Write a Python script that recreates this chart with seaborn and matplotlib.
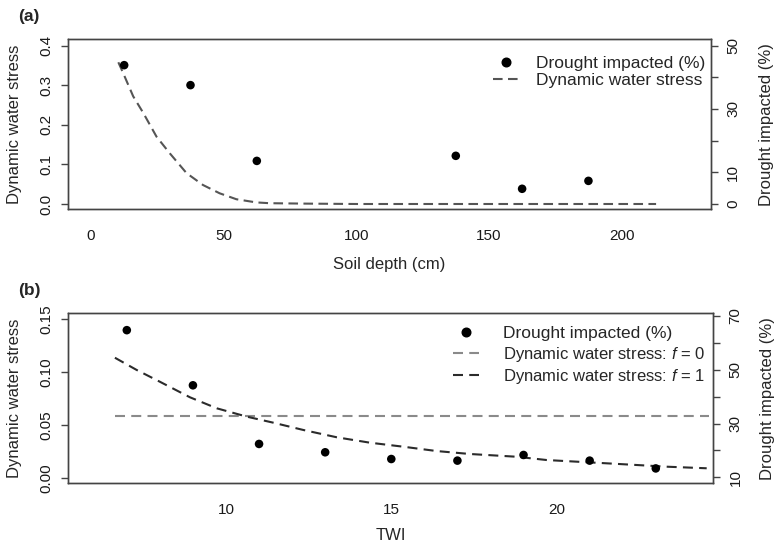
import matplotlib
matplotlib.use("Agg")
import matplotlib.pyplot as plt
import pandas as pd
import seaborn as sns
from matplotlib.lines import Line2D

# ---------------- data: panel (a) ----------------
depth_pts = [12.5, 37.5, 62.5, 137.5, 162.5, 187.5]
drought_a = [43.8, 37.5, 13.6, 15.2, 4.8, 7.3]
depth_curve = [10.3, 12.1, 15.9, 19.7, 24.7, 29.7, 36.0, 42.2, 48.5, 54.8,
               62.3, 67.3, 80.0, 100.0, 150.0, 213.0]
stress_a = [0.358, 0.331, 0.272, 0.230, 0.170, 0.128, 0.078, 0.048, 0.027,
            0.012, 0.004, 0.002, 0.001, 0.0, 0.0, 0.0]

# ---------------- data: panel (b) ----------------
twi_pts = [7, 9, 11, 13, 15, 17, 19, 21, 23]
drought_b = [64.7, 44.2, 22.4, 19.3, 16.8, 16.2, 18.3, 16.2, 13.3]
twi_curve = [6.64, 7.30, 8.00, 8.91, 9.72, 10.63, 11.43, 12.34, 13.35, 14.35,
             15.36, 16.37, 17.38, 18.79, 19.70, 21.51, 23.33, 24.54]
stress_f1 = [0.1134, 0.1018, 0.0907, 0.0760, 0.0656, 0.0577, 0.0520, 0.0451,
             0.0382, 0.0331, 0.0293, 0.0252, 0.0224, 0.0198, 0.0167, 0.0136,
             0.0104, 0.0089]
twi_f0 = [6.64, 24.6]
stress_f0 = [0.0586, 0.0586]

# tick labels
left_ticks_a = [0.0, 0.1, 0.2, 0.3, 0.4]
right_ticks_a = [0, 10, 20, 30, 40, 50]
right_labels_a = ["0", "10", "", "30", "", "50"]
x_ticks_a = [0, 50, 100, 150, 200]
left_ticks_b = [0.00, 0.05, 0.10, 0.15]
right_ticks_b = [10, 20, 30, 40, 50, 60, 70]
right_labels_b = ["10", "", "30", "", "50", "", "70"]
x_ticks_b = [10, 15, 20]

df_a_pts = pd.DataFrame({"depth": depth_pts, "drought": drought_a})
df_a_cur = pd.DataFrame({"depth": depth_curve, "stress": stress_a})
df_b_pts = pd.DataFrame({"twi": twi_pts, "drought": drought_b})
df_b_f1 = pd.DataFrame({"twi": twi_curve, "stress": stress_f1})
df_b_f0 = pd.DataFrame({"twi": twi_f0, "stress": stress_f0})

sns.set_theme(style="white")
plt.rcParams["font.family"] = ["Liberation Sans", "DejaVu Sans"]
plt.rcParams["mathtext.fontset"] = "custom"
plt.rcParams["mathtext.it"] = "Liberation Sans:italic"
plt.rcParams["mathtext.rm"] = "Liberation Sans"

FS_TICK = 11
FS_LAB = 12
FS_LEG = 12.5
AX_COL = "#444444"

fig = plt.figure(figsize=(7.75, 5.44), dpi=100)
W, H = 775.0, 544.0


def axes_px(l, t, r, b):
    return fig.add_axes([l / W, 1 - b / H, (r - l) / W, (b - t) / H])


def style_axis(ax):
    for s in ax.spines.values():
        s.set_color(AX_COL)
        s.set_linewidth(1.0)
        s.set_visible(True)
    ax.tick_params(axis="both", direction="out", length=5, width=1,
                   color=AX_COL, labelsize=FS_TICK, labelcolor="#1a1a1a", pad=6)
    ax.tick_params(axis="x", pad=9.5)
    ax.set_facecolor("none")


def make_panel(l, t, r, b, df_pts, xcol, curves, xlim, ylim_l, ylim_r,
               lt, lt_fmt, rt, rl, xt, xlabel, xlabel_y, leg_items,
               leg_anchor, leg_kw):
    ax = axes_px(l, t, r, b)
    for df, col, dash in curves:
        sns.lineplot(data=df, x=xcol, y="stress", ax=ax, color=col,
                     linewidth=1.5, estimator=None, sort=False)
        ax.lines[-1].set_dashes(dash)
    ax.set_xlim(*xlim)
    ax.set_ylim(*ylim_l)
    ax.set_yticks(lt)
    ax.set_yticklabels([lt_fmt.format(v) for v in lt], rotation=90,
                       va="center")
    ax.set_xticks(xt)
    ax.set_xticklabels([str(v) for v in xt])
    style_axis(ax)
    ax.set_xlabel(xlabel, fontsize=FS_LAB)
    ax.set_ylabel("Dynamic water stress", fontsize=FS_LAB)

    ax2 = ax.twinx()
    sns.scatterplot(data=df_pts, x=xcol, y="drought", ax=ax2, color="black",
                    s=38, edgecolor="none", zorder=5)
    ax2.set_ylim(*ylim_r)
    ax2.set_yticks(rt)
    ax2.set_yticklabels(rl, rotation=90, va="center")
    style_axis(ax2)
    ax2.set_ylabel("Drought impacted (%)", fontsize=FS_LAB)
    ax2.set_xlim(*xlim)

    wpx = r - l
    hpx = b - t
    ax.yaxis.set_label_coords((15 - l) / wpx, 0.5)
    ax.yaxis.label.set_va("center")
    ax2.yaxis.set_label_coords((767 - l) / wpx, 0.5)
    ax2.yaxis.label.set_va("center")
    ax.xaxis.set_label_coords(0.5, 1 - (xlabel_y - t) / hpx)
    ax.xaxis.label.set_va("center")

    handles = []
    labels = []
    for kind, col, dash, lab in leg_items:
        if kind == "pt":
            handles.append(Line2D([], [], marker="o", color="black",
                                  linestyle="None", markersize=6.2))
        else:
            h = Line2D([], [], color=col, linewidth=1.5)
            h.set_dashes(dash)
            handles.append(h)
        labels.append(lab)
    leg = ax2.legend(handles, labels, loc="upper right",
                     bbox_to_anchor=leg_anchor, frameon=False,
                     fontsize=FS_LEG, borderaxespad=0, borderpad=0, **leg_kw)
    return ax, ax2, leg


DASH_A = (4.6, 2.6)
DASH_B = (4.8, 3.0)

# panel (a)
ax_a, ax_a2, leg_a = make_panel(
    68.3, 39.3, 711.0, 209.3, df_a_pts, "depth",
    [(df_a_cur, "#555555", DASH_A)],
    (-8.56, 233.7), (-0.0134, 0.416), (-1.67, 51.96),
    left_ticks_a, "{:.1f}", right_ticks_a, right_labels_a, x_ticks_a,
    "Soil depth (cm)", 265,
    [("pt", "black", None, "Drought impacted (%)"),
     ("ln", "#555555", DASH_A, "Dynamic water stress")],
    ((705 - 68.3) / 642.7, 0.905),
    dict(handlelength=1.5, handletextpad=0.95, labelspacing=0.12),
)

# panel (b)
ax_b, ax_b2, leg_b = make_panel(
    68.3, 313.3, 713.3, 483.3, df_b_pts, "twi",
    [(df_b_f0, "#8a8a8a", DASH_B), (df_b_f1, "#2b2b2b", DASH_B)],
    (5.23, 24.74), (-0.0053, 0.1554), (7.77, 70.97),
    left_ticks_b, "{:.2f}", right_ticks_b, right_labels_b, x_ticks_b,
    "TWI", 535,
    [("pt", "black", None, "Drought impacted (%)"),
     ("ln", "#8a8a8a", DASH_B, "Dynamic water stress: $\\mathit{f}$ = 0"),
     ("ln", "#2b2b2b", DASH_B, "Dynamic water stress: $\\mathit{f}$ = 1")],
    ((705 - 68.3) / 645.0, 0.925),
    dict(handlelength=1.5, handletextpad=1.35, labelspacing=0.2),
)
for txt in leg_b.get_texts()[1:]:
    txt.set_fontsize(12)

fig.text(18 / W, 1 - 17 / H, "(a)", fontsize=12.5, fontweight="bold",
         ha="left", va="center")
fig.text(18 / W, 1 - 291 / H, "(b)", fontsize=12.5, fontweight="bold",
         ha="left", va="center")

fig.savefig("out.png", dpi=100)
